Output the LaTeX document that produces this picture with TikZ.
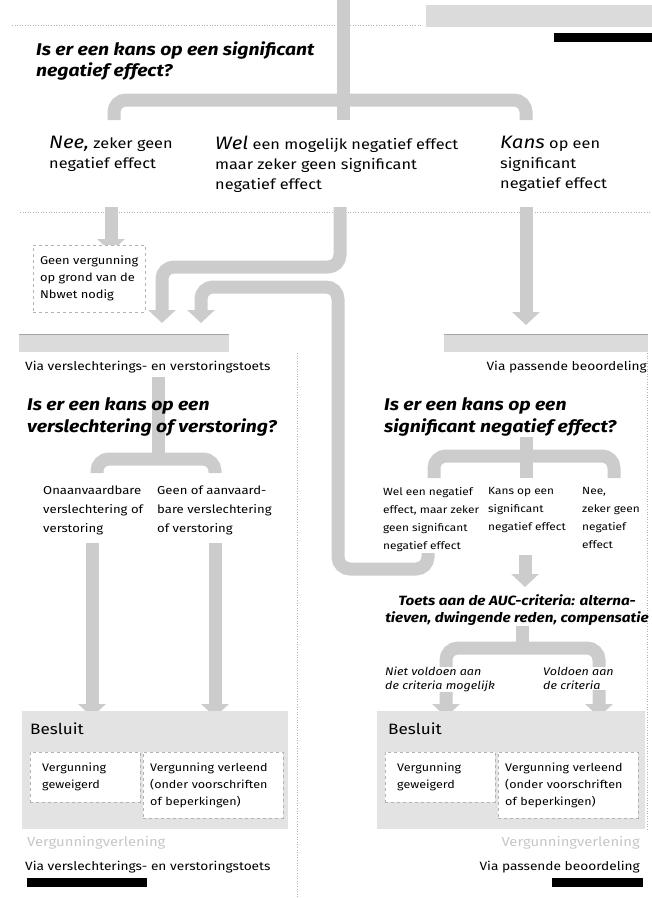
\documentclass[tikz,border=0pt]{standalone}
\usepackage{fontspec}
\setmainfont{Fira Sans}[FakeStretch=1.14]
\usetikzlibrary{arrows.meta}

\tikzset{
  tube/.style={draw=gray!40, line width=13pt, rounded corners=12pt},
  tubetip/.style={tube, -{Triangle[width=27pt,length=13pt]}},
  tubetips/.style={tube, {Triangle[width=27pt,length=13pt]}-{Triangle[width=27pt,length=13pt]}},
  quest/.style={anchor=north west, inner sep=0pt, align=left, font=\bfseries\itshape\fontsize{17}{21}\selectfont},
  choice/.style={anchor=north west, inner sep=0pt, align=left, font=\fontsize{14.3}{20}\selectfont},
  smalltxt/.style={anchor=north west, inner sep=0pt, align=left, font=\fontsize{10.4}{18}\selectfont},
  viatxt/.style={inner sep=0pt, font=\fontsize{12}{15}\selectfont},
  faint/.style={inner sep=0pt, text=gray!45, font=\fontsize{13}{16}\selectfont},
  band/.style={fill=gray!28},
  rule/.style={draw=gray!60, dotted, line width=0.6pt},
  optbox/.style={draw=gray!60, dashed, fill=white, anchor=north west, align=left, inner ysep=0pt, font=\fontsize{11}{17}\selectfont},
}
\newcommand{\bigword}[1]{{\itshape\fontsize{18}{20}\selectfont #1}}

\begin{document}
\begin{tikzpicture}[x=1pt,y=-1pt]
\useasboundingbox (0,0) rectangle (652,898);

\draw[rule] (12,25) -- (421,25);
\fill[band] (426,5) rectangle (652,27);
\fill[black] (554,33) rectangle (652,42);
\draw[rule] (20,212) -- (650,212);
\draw[rule] (297,353) -- (297,898);
\draw[rule] (647,353) -- (647,830);

% tubes
\draw[tube] (343,0) -- (343,120);
\draw[tube] (114,120) |- (343,100) -| (526,120);
\draw[tubetip] (111,207) -- (111,252);
\draw[tubetip] (340,207) -- (340,267) -| (162,323);
\draw[tubetip] (428,553) -- (428,569) -| (338,287) -| (201,323);
\draw[tubetip] (526,207) -- (526,325);

\draw[tube] (158,377) -- (158,459);
\draw[tube] (97,473) |- (158,459) -| (215,473);
\draw[tubetip] (92,543) -- (92,717);
\draw[tubetip] (215,543) -- (215,717);

\draw[tube] (526,437) -- (526,478);
\draw[tube] (434,478) |- (526,456) -| (614,478);
\draw[tubetip] (525,555) -- (525,587);
\draw[tube] (522,626) -- (522,648);
\draw[tubetips] (446,717) |- (522,648) -| (599,717);

% banners
\fill[band] (19,334) rectangle (229,352);
\draw[gray!70, line width=1pt] (19,334) -- (229,334);
\fill[band] (444,334) rectangle (648,352);
\draw[gray!70, line width=1pt] (444,334) -- (648,334);

% top question
\node[quest] (q1) at (36,42) {Is er een kans op een significant\\negatief effect?};
\node[choice] (nee) at (49,136) {\bigword{Nee,} zeker geen\\negatief effect};
\node[choice] (wel) at (215,136) {\bigword{Wel} een mogelijk negatief effect\\maar zeker geen significant\\negatief effect};
\node[choice] (kans) at (500,136) {\bigword{Kans} op een\\significant\\negatief effect};

\node[optbox, minimum width=112pt, minimum height=67pt, font=\fontsize{11.3}{17}\selectfont] (geen) at (33,245) {Geen vergunning\\op grond van de\\Nbwet nodig};

% left panel
\node[viatxt, anchor=west] (via1) at (25,367) {Via verslechterings- en verstoringstoets};
\node[quest, font=\bfseries\itshape\fontsize{17}{22}\selectfont] (q2) at (27,397) {Is er een kans op een\\verslechtering of verstoring?};
\node[smalltxt, font=\fontsize{11.5}{19}\selectfont] (onaan) at (43,486) {Onaanvaardbare\\verslechtering of\\verstoring};
\node[smalltxt, font=\fontsize{11.5}{19}\selectfont] (aanv) at (157,486) {Geen of aanvaard-\\bare verslechtering\\of verstoring};

\fill[gray!22] (22,711) rectangle (288,829);
\node[anchor=north west, inner sep=0pt, font=\fontsize{15}{18}\selectfont] (besl1) at (30,723) {Besluit};
\node[optbox, minimum width=110pt, minimum height=50pt, text width=86pt, inner xsep=12pt] (weig1) at (30,752) {Vergunning\\geweigerd};
\node[optbox, minimum width=140pt, minimum height=66pt, text width=126pt, inner xsep=7pt] (verl1) at (143,752) {Vergunning verleend\\(onder voorschriften\\of beperkingen)};

\node[faint, anchor=west] (vv1) at (27,843) {Vergunningverlening};
\node[viatxt, anchor=west] (via3) at (25,867) {Via verslechterings- en verstoringstoets};
\fill[black] (27,878) rectangle (147,887);

% right panel
\node[viatxt, anchor=east] (via2) at (647,367) {Via passende beoordeling};
\node[quest, font=\bfseries\itshape\fontsize{17}{22}\selectfont] (q3) at (384,397) {Is er een kans op een\\significant negatief effect?};
\node[smalltxt] (welneg) at (383,487) {Wel een negatief\\effect, maar zeker\\geen significant\\negatief effect};
\node[smalltxt] (kansneg) at (488,487) {Kans op een\\significant\\negatief effect};
\node[smalltxt] (neeneg) at (582,487) {Nee,\\zeker geen\\negatief\\effect};

\node[anchor=north, inner sep=0pt, align=center, font=\bfseries\itshape\fontsize{13.4}{17}\selectfont] (toets) at (517,594) {Toets aan de AUC-criteria: alterna-\\tieven, dwingende reden, compensatie};
\node[smalltxt, font=\itshape\fontsize{11}{14}\selectfont, fill=white] (niet) at (385,667) {Niet voldoen aan\\de criteria mogelijk};
\node[smalltxt, font=\itshape\fontsize{11}{14}\selectfont, fill=white] (vold) at (543,667) {Voldoen aan\\de criteria};

\fill[gray!22] (377,711) rectangle (645,829);
\node[anchor=north west, inner sep=0pt, font=\fontsize{15}{18}\selectfont] (besl2) at (388,723) {Besluit};
\node[optbox, minimum width=110pt, minimum height=50pt, text width=86pt, inner xsep=12pt] (weig2) at (385,752) {Vergunning\\geweigerd};
\node[optbox, minimum width=140pt, minimum height=66pt, text width=126pt, inner xsep=7pt] (verl2) at (498,752) {Vergunning verleend\\(onder voorschriften\\of beperkingen)};

\node[faint, anchor=east] (vv2) at (640,843) {Vergunningverlening};
\node[viatxt, anchor=east] (via4) at (640,867) {Via passende beoordeling};
\fill[black] (552,878) rectangle (643,887);
\end{tikzpicture}
\end{document}
